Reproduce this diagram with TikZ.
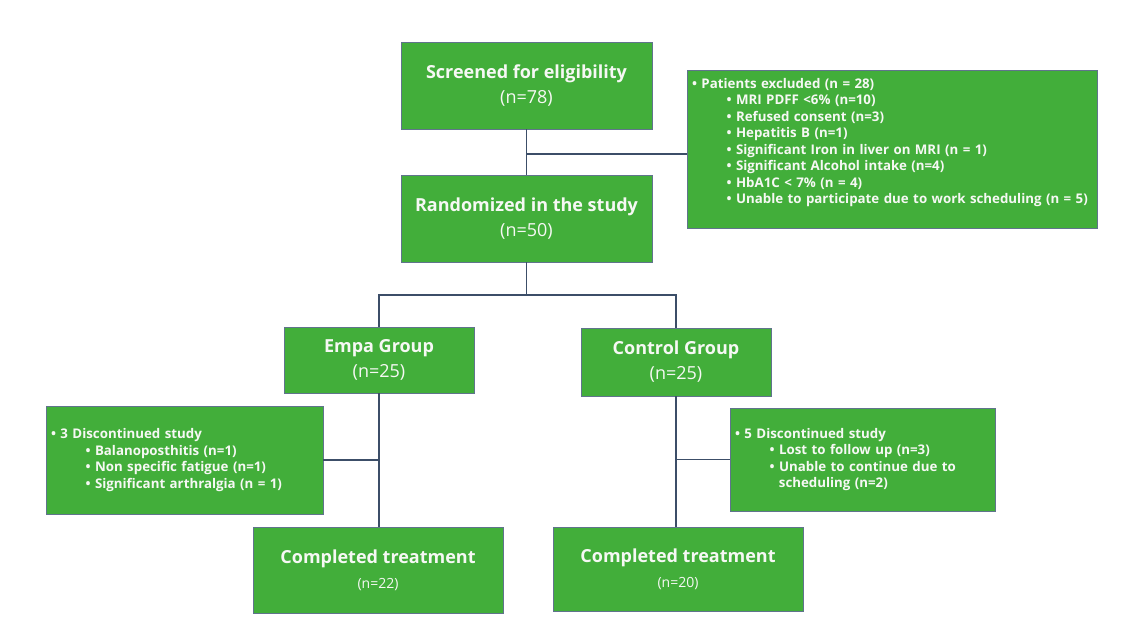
\documentclass[tikz,border=0pt]{standalone}
\usepackage{fontspec}
\setmainfont{Open Sans}
\definecolor{boxgreen}{RGB}{66,174,58}
\definecolor{boxedge}{RGB}{96,116,140}
\definecolor{linkblue}{RGB}{60,78,104}
\definecolor{boxtext}{RGB}{246,248,244}
\newcommand{\subpoint}{\\\hspace*{2.6em}\textbullet\ }

\begin{document}
\begin{tikzpicture}[x=1pt, y=-1pt,
    stage/.style={draw=boxedge, fill=boxgreen, text=boxtext, align=center,
        font=\bfseries\fontsize{18}{25}\selectfont, inner sep=0pt},
    listbox/.style={draw=boxedge, fill=boxgreen, text=boxtext, align=left,
        font=\bfseries\fontsize{13.3}{16.5}\selectfont, inner xsep=5pt, inner ysep=0pt},
    link/.style={draw=linkblue, line width=1.8pt}]
    \useasboundingbox[fill=white] (0,0) rectangle (1135,640);

    \node[stage, minimum width=251, minimum height=87] (screen) at (526.5,85.5)
        {Screened for eligibility\\\mdseries (n=78)};
    \node[listbox, text width=400, minimum height=158] (excl) at (892,149)
        {\textbullet\ Patients excluded (n = 28)
         \subpoint MRI PDFF <6\% (n=10)
         \subpoint Refused consent (n=3)
         \subpoint Hepatitis B (n=1)
         \subpoint Significant Iron in liver on MRI (n = 1)
         \subpoint Significant Alcohol intake (n=4)
         \subpoint HbA1C < 7\% (n = 4)
         \subpoint Unable to participate due to work scheduling (n = 5)\\\mbox{}};
    \node[stage, minimum width=251, minimum height=87] (rand) at (526.5,218.5)
        {Randomized in the study\\\mdseries (n=50)};

    \node[stage, minimum width=190, minimum height=66] (empa) at (379,360)
        {Empa Group\\\mdseries (n=25)};
    \node[stage, minimum width=190, minimum height=68] (ctrl) at (676,362)
        {Control Group\\\mdseries (n=25)};

    \node[listbox, text width=267, minimum height=108] (disc1) at (184.5,460)
        {\textbullet\ 3 Discontinued study
         \subpoint Balanoposthitis (n=1)
         \subpoint Non specific fatigue (n=1)
         \subpoint Significant arthralgia (n = 1)};
    \node[listbox, text width=255, minimum height=103] (disc2) at (862.5,459.5)
        {\textbullet\ 5 Discontinued study
         \subpoint Lost to follow up (n=3)
         \subpoint Unable to continue due to
         \\\hspace*{3.3em}scheduling (n=2)};

    \node[stage, minimum width=250, minimum height=86] (done1) at (378,570)
        {Completed treatment\\\mdseries\fontsize{14}{20}\selectfont (n=22)};
    \node[stage, minimum width=250, minimum height=84] (done2) at (678,569)
        {Completed treatment\\\mdseries\fontsize{14}{20}\selectfont (n=20)};

    \coordinate (split1) at (526.5,154);
    \coordinate (split2) at (526.5,295);

    \draw[link] (screen.south) -- (rand.north);
    \draw[link] (split1) -- (split1 -| excl.west);
    \draw[link] (rand.south) -- (split2);
    \draw[link] (empa.north) |- (split2) -| (ctrl.north);
    \draw[link] (empa.south) -- (done1.north -| empa.south);
    \draw[link] (ctrl.south) -- (done2.north -| ctrl.south);
    \draw[link] (disc1.east) -- (disc1.east -| empa.south);
    \draw[link] (disc2.west) -- (disc2.west -| ctrl.south);
\end{tikzpicture}
\end{document}
